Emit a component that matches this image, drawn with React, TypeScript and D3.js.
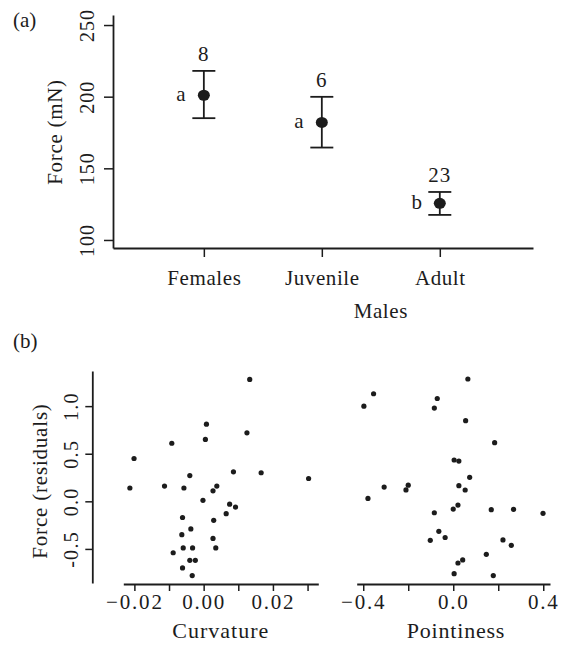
import React, { useRef, useEffect } from "react";
import { select, scaleLinear, axisLeft, axisBottom } from "d3";

// panel (a): force by group
const categories = ["Females", "Juvenile", "Adult"];
const meanForce = [201, 182, 125.6];
const upperForce = [218, 199.9, 133.5];
const lowerForce = [185, 164.5, 117.5];
const sampleSizes = ["8", "6", "23"];
const groupLetters = ["a", "a", "b"];
const forceTicks = [100, 150, 200, 250];

// panel (b): residual force vs shape
const curvature = [
  0.0008, 0.0005, -0.0092, -0.0201, -0.004, -0.0213, -0.0113, -0.0057, 0.0027, 0.0038, -0.0002,
  -0.0061, 0.0029, -0.0037, -0.0063, 0.0027, -0.0059, -0.0032, 0.0035, -0.0088, -0.004, -0.0024,
  -0.0061, -0.0033, 0.0133, 0.0125, 0.0086, 0.0166, 0.0303, 0.0075, 0.0092, 0.0065,
];
const curvatureResid = [
  0.81, 0.65, 0.61, 0.45, 0.27, 0.14, 0.16, 0.14, 0.11, 0.16, 0.01, -0.17, -0.2, -0.29, -0.35,
  -0.39, -0.49, -0.49, -0.49, -0.54, -0.62, -0.62, -0.7, -0.78, 1.28, 0.72, 0.31, 0.3, 0.24,
  -0.03, -0.06, -0.13,
];
const pointiness = [
  -0.354, -0.397, -0.071, -0.084, -0.307, -0.2, -0.21, -0.379, -0.084, -0.064, -0.102, -0.036,
  0.065, 0.055, 0.184, 0.004, 0.025, 0.073, 0.025, 0.053, 0.021, 0.0, 0.169, 0.268, 0.399,
  0.221, 0.258, 0.147, 0.042, 0.021, 0.004, 0.178,
];
const pointinessResid = [
  1.13, 1.0, 1.08, 0.98, 0.15, 0.17, 0.12, 0.03, -0.12, -0.315, -0.41, -0.38, 1.285, 0.847,
  0.616, 0.434, 0.423, 0.252, 0.164, 0.119, -0.039, -0.081, -0.088, -0.084, -0.126, -0.406,
  -0.462, -0.557, -0.616, -0.648, -0.76, -0.78,
];
const residTicks = [-0.5, 0, 0.5, 1.0];
const curvatureTicks = [-0.02, -0.01, 0, 0.01, 0.02, 0.03];
const curvatureLabels = [-0.02, 0, 0.02];
const pointinessTicks = [-0.4, -0.2, 0, 0.2, 0.4];
const pointinessLabels = [-0.4, 0, 0.4];

const FONT = "'Liberation Serif', 'Times New Roman', serif";
const INK = "#1c1c1c";

const minus = (v: number, d: number) => (v < 0 ? "\u2212" : "") + Math.abs(v).toFixed(d);

const App = () => {
  const svgRef = useRef<SVGSVGElement>(null);

  useEffect(() => {
    const svg = select(svgRef.current);
    svg.selectAll("*").remove();

    const styleAxis = (g: any, size: number, spacing = "1px") => {
      g.attr("font-family", FONT).attr("font-size", size);
      g.select(".domain").attr("stroke", INK).attr("stroke-width", 1.8);
      g.selectAll(".tick line").attr("stroke", INK).attr("stroke-width", 1.5);
      g.selectAll(".tick text").attr("fill", INK).attr("letter-spacing", spacing);
    };

    //---------- panel (a)
    const xA = scaleLinear().domain([0.23, 3.79]).range([113, 533]);
    const yA = scaleLinear().domain([94.4, 257]).range([248, 15]);

    const gyA = svg.append("g").attr("transform", "translate(113,0)");
    gyA.call(axisLeft(yA).tickValues(forceTicks).tickSize(9).tickSizeOuter(0));
    styleAxis(gyA, 20);
    gyA.selectAll(".tick text")
      .attr("transform", "rotate(-90)")
      .attr("x", 0).attr("y", -19).attr("dy", 0)
      .attr("text-anchor", "middle");

    const gxA = svg.append("g").attr("transform", "translate(0,248)");
    gxA.call(
      axisBottom(xA)
        .tickValues([1, 2, 3])
        .tickFormat((d: any) => categories[d - 1])
        .tickSize(9)
        .tickSizeOuter(0)
    );
    styleAxis(gxA, 21, "0.6px");
    gxA.selectAll(".tick text").attr("y", 37).attr("dy", 0);

    const groups = svg.append("g");
    categories.forEach((c, i) => {
      const cx = xA(i + 1);
      const g = groups.append("g");
      g.append("line")
        .attr("x1", cx).attr("x2", cx)
        .attr("y1", yA(upperForce[i])).attr("y2", yA(lowerForce[i]))
        .attr("stroke", INK).attr("stroke-width", 1.8);
      [upperForce[i], lowerForce[i]].forEach((v) => {
        g.append("line")
          .attr("x1", cx - 11.5).attr("x2", cx + 11.5)
          .attr("y1", yA(v)).attr("y2", yA(v))
          .attr("stroke", INK).attr("stroke-width", 1.8);
      });
      g.append("ellipse")
        .attr("cx", cx).attr("cy", yA(meanForce[i]))
        .attr("rx", 6).attr("ry", 5.5)
        .attr("fill", INK);
      g.append("text")
        .attr("x", cx).attr("y", yA(upperForce[i]) - 10)
        .attr("text-anchor", "middle")
        .attr("font-family", FONT).attr("font-size", 21).attr("letter-spacing", "1px")
        .attr("fill", INK)
        .text(sampleSizes[i]);
      g.append("text")
        .attr("x", cx - 23).attr("y", yA(meanForce[i]) + 6)
        .attr("text-anchor", "middle")
        .attr("font-family", FONT).attr("font-size", 21)
        .attr("fill", INK)
        .text(groupLetters[i]);
    });

    svg.append("text")
      .attr("transform", "translate(62,132) rotate(-90)")
      .attr("text-anchor", "middle")
      .attr("font-family", FONT).attr("font-size", 21).attr("letter-spacing", "0.7px")
      .attr("fill", INK)
      .text("Force (mN)");

    svg.append("text")
      .attr("x", (xA(2) + xA(3)) / 2).attr("y", 318)
      .attr("text-anchor", "middle")
      .attr("font-family", FONT).attr("font-size", 21).attr("letter-spacing", "0.6px")
      .attr("fill", INK)
      .text("Males");

    svg.append("text")
      .attr("x", 13).attr("y", 27)
      .attr("font-family", FONT).attr("font-size", 21)
      .attr("fill", INK)
      .text("(a)");

    //---------- panel (b)
    const yB = scaleLinear().domain([-0.858, 1.369]).range([583, 371]);
    const xCurv = scaleLinear().domain([-0.0232, 0.0331]).range([123.3, 318.3]);
    const xPoint = scaleLinear().domain([-0.429, 0.43]).range([356.7, 550]);

    const gyB = svg.append("g").attr("transform", "translate(92.3,0)");
    gyB.call(
      axisLeft(yB)
        .tickValues(residTicks)
        .tickFormat((d: any) => d.toFixed(1))
        .tickSize(7)
        .tickSizeOuter(0)
    );
    styleAxis(gyB, 20, "1.3px");
    gyB.selectAll(".tick text")
      .attr("transform", "rotate(-90)")
      .attr("x", 0).attr("y", -14).attr("dy", 0)
      .attr("text-anchor", "middle");

    const gxC = svg.append("g").attr("transform", "translate(0,584)");
    gxC.call(
      axisBottom(xCurv)
        .tickValues(curvatureTicks)
        .tickFormat((d: any) =>
          curvatureLabels.some((l) => Math.abs(l - d) < 1e-9) ? minus(d, 2) : ""
        )
        .tickSize(7)
        .tickSizeOuter(0)
    );
    styleAxis(gxC, 21, "1.8px");
    gxC.selectAll(".tick text").attr("y", 25).attr("dy", 0);

    const gxP = svg.append("g").attr("transform", "translate(0,584)");
    gxP.call(
      axisBottom(xPoint)
        .tickValues(pointinessTicks)
        .tickFormat((d: any) =>
          pointinessLabels.some((l) => Math.abs(l - d) < 1e-9) ? minus(d, 1) : ""
        )
        .tickSize(7)
        .tickSizeOuter(0)
    );
    styleAxis(gxP, 21, "1.8px");
    gxP.selectAll(".tick text").attr("y", 25).attr("dy", 0);

    svg.append("g")
      .selectAll("circle")
      .data(curvature.map((c, i) => [c, curvatureResid[i]]))
      .join("circle")
      .attr("cx", (d) => xCurv(d[0]))
      .attr("cy", (d) => yB(d[1]))
      .attr("r", 2.6)
      .attr("fill", INK);

    svg.append("g")
      .selectAll("circle")
      .data(pointiness.map((p, i) => [p, pointinessResid[i]]))
      .join("circle")
      .attr("cx", (d) => xPoint(d[0]))
      .attr("cy", (d) => yB(d[1]))
      .attr("r", 2.6)
      .attr("fill", INK);

    svg.append("text")
      .attr("x", (123.3 + 318.3) / 2).attr("y", 638)
      .attr("text-anchor", "middle")
      .attr("font-family", FONT).attr("font-size", 22).attr("letter-spacing", "1px")
      .attr("fill", INK)
      .text("Curvature");

    svg.append("text")
      .attr("x", 456).attr("y", 638)
      .attr("text-anchor", "middle")
      .attr("font-family", FONT).attr("font-size", 22).attr("letter-spacing", "0.8px")
      .attr("fill", INK)
      .text("Pointiness");

    svg.append("text")
      .attr("transform", "translate(47,481) rotate(-90)")
      .attr("text-anchor", "middle")
      .attr("font-family", FONT).attr("font-size", 21).attr("letter-spacing", "0.8px")
      .attr("fill", INK)
      .text("Force (residuals)");

    svg.append("text")
      .attr("x", 13).attr("y", 348)
      .attr("font-family", FONT).attr("font-size", 21)
      .attr("fill", INK)
      .text("(b)");
  }, []);

  return (
    <svg
      ref={svgRef}
      width={562}
      height={653}
      style={{ position: "absolute", left: 0, top: 0, background: "#fff" }}
    />
  );
};

export default App;
